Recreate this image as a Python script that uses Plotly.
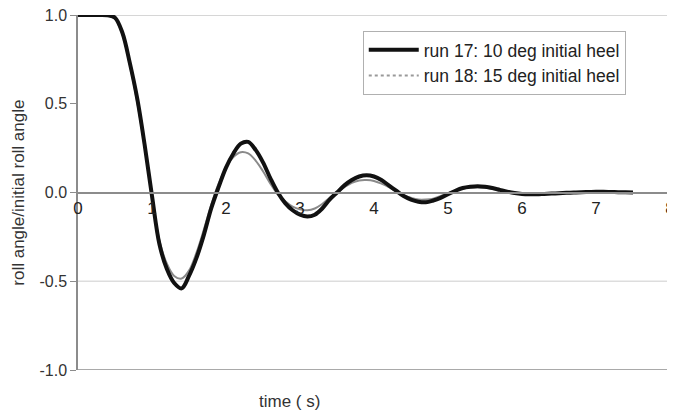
import plotly.graph_objects as go

# time (s)
time = [round(i * 0.1, 1) for i in range(76)]

# run 17: 10 deg initial heel
run17 = [1.0, 1.0, 1.0, 1.0, 0.998, 0.985, 0.90, 0.73, 0.53, 0.27,
         -0.02, -0.29, -0.43, -0.51, -0.54, -0.47, -0.37, -0.24, -0.09, 0.03,
         0.14, 0.22, 0.275, 0.285, 0.24, 0.17, 0.08, 0.0, -0.06, -0.10,
         -0.125, -0.135, -0.125, -0.09, -0.04, 0.0, 0.04, 0.07, 0.09, 0.097,
         0.09, 0.07, 0.04, 0.01, -0.02, -0.04, -0.052, -0.055, -0.045, -0.03,
         -0.01, 0.01, 0.025, 0.032, 0.035, 0.032, 0.025, 0.015, 0.005, -0.003,
         -0.008, -0.01, -0.01, -0.008, -0.006, -0.004, -0.002, 0.0, 0.002, 0.003,
         0.004, 0.004, 0.003, 0.002, 0.001, 0.0]

# run 18: 15 deg initial heel
run18 = [1.0, 1.0, 1.0, 1.0, 0.998, 0.98, 0.89, 0.72, 0.51, 0.26,
         -0.02, -0.27, -0.40, -0.47, -0.485, -0.44, -0.34, -0.21, -0.07, 0.05,
         0.14, 0.20, 0.227, 0.22, 0.18, 0.12, 0.05, -0.01, -0.05, -0.08,
         -0.095, -0.10, -0.09, -0.065, -0.03, 0.0, 0.03, 0.055, 0.068, 0.07,
         0.065, 0.05, 0.03, 0.005, -0.015, -0.03, -0.04, -0.04, -0.035, -0.02,
         -0.005, 0.01, 0.022, 0.028, 0.03, 0.027, 0.02, 0.012, 0.004, -0.003,
         -0.007, -0.009, -0.009, -0.007, -0.005, -0.003, -0.001, 0.001, 0.002, 0.003,
         0.003, 0.003, 0.002, 0.001, 0.0, -0.001]

x_ticks = [0, 1, 2, 3, 4, 5, 6, 7, 8]
y_ticks = [-1.0, -0.5, 0.0, 0.5, 1.0]
y_labels = ["-1.0", "-0.5", "0.0", "0.5", "1.0"]

font = "Liberation Sans, Arial, sans-serif"

fig = go.Figure()

fig.add_trace(go.Scatter(x=time, y=run18, mode='lines', showlegend=False,
                         line=dict(color='#8a8a8a', width=2, shape='spline')))
fig.add_trace(go.Scatter(x=time, y=run17, mode='lines', name='run 17: 10 deg initial heel',
                         line=dict(color='#111111', width=4, shape='spline')))
# legend entry for run 18 (dotted sample as in the original)
fig.add_trace(go.Scatter(x=[None], y=[None], mode='lines', name='run 18: 15 deg initial heel',
                         line=dict(color='#999999', width=2, dash='dot')))

# horizontal reference lines
for yv, col in [(1.0, '#c8c8c8'), (-0.5, '#dddddd'), (-1.0, '#8c8c8c')]:
    fig.add_shape(type='line', xref='paper', x0=0, x1=1, yref='y', y0=yv, y1=yv,
                  line=dict(color=col, width=1.5), layer='below')

fig.update_layout(
    width=667, height=406,
    margin=dict(l=70, r=5, t=7, b=44),
    paper_bgcolor='white', plot_bgcolor='white',
    font=dict(family=font, size=17, color='#333333'),
    xaxis=dict(range=[0, 8], tickvals=x_ticks, showgrid=False, zeroline=False,
               showline=True, linecolor='#8c8c8c', linewidth=1.5, ticklabeloverflow='allow',
               automargin=False,
               anchor='free', position=0.5, ticks='', tickfont=dict(size=17, color='#222222')),
    yaxis=dict(range=[-1.0, 1.0], tickvals=y_ticks, ticktext=y_labels, showgrid=False,
               zeroline=False, showline=True, linecolor='#8c8c8c', linewidth=1.5,
               ticks='outside', ticklen=6, tickcolor='#8c8c8c', ticklabeloverflow='allow',
               automargin=False, tickfont=dict(size=16, color='#333333')),
    legend=dict(x=0.481, y=0.955, xanchor='left', yanchor='top',
                bordercolor='#b0b0b0', borderwidth=1, bgcolor='white',
                font=dict(size=17.5, color='#222222'), tracegroupgap=2, itemwidth=50),
    annotations=[
        dict(text='time ( s)', xref='paper', yref='paper', x=0.358, y=0,
             yshift=-20, yanchor='top', showarrow=False,
             font=dict(size=17, color='#333333')),
        dict(text='roll angle/initial roll angle', xref='paper', yref='paper', x=-0.101, y=0.5,
             textangle=-90, xanchor='center', yanchor='middle', showarrow=False,
             font=dict(size=17, color='#333333')),
    ],
)

fig.write_html("out.html")
